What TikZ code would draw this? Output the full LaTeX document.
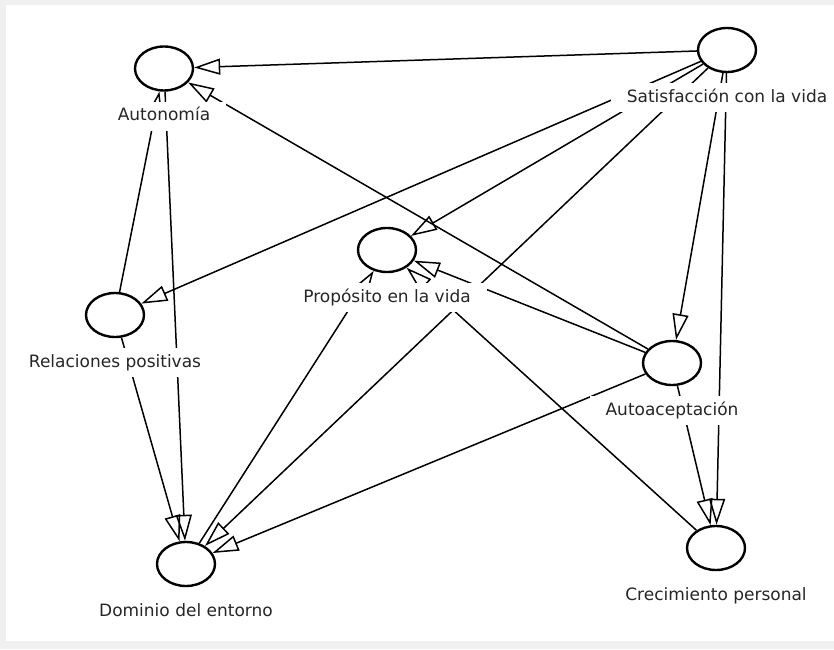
\documentclass[tikz,border=0pt]{standalone}
\usepackage{fontspec}
\setmainfont{DejaVu Sans}
\usepackage{tikz}
\usetikzlibrary{
    arrows.meta,
    shapes.geometric,
    positioning
}
\definecolor{framegray}{HTML}{F0F0F0}

\begin{document}
\begin{tikzpicture}[x=1pt, y=1pt,
    var/.style={draw, ellipse, fill=white, line width=2.4pt, inner sep=0pt,
        minimum width=58pt, minimum height=44pt},
    lbl/.style={fill=white, text=black!85, inner xsep=16pt, inner ysep=6pt,
        text height=13pt, text depth=4pt, font=\fontsize{17}{20}\selectfont},
    link/.style={line width=1.5pt, -{Triangle[open, length=26pt, width=16pt]}}]
    % frame
    \fill[framegray] (0, 0) rectangle (834, 649);
    \fill[white] (6, 8) rectangle (834, 644);
    \useasboundingbox (0, 0) rectangle (834, 649);

    % variables
    \node[var] (aut) at (164, 580.5) {};
    \node[var] (sat) at (727, 599) {};
    \node[var] (pro) at (387, 399) {};
    \node[var] (rel) at (115, 334) {};
    \node[var] (ace) at (672, 286) {};
    \node[var] (dom) at (186, 85) {};
    \node[var] (cre) at (716, 101) {};

    % paths
    \draw
    (sat) edge[link] (aut)
    (ace) edge[link] (aut)
    (rel) edge[link] (aut)
    (sat) edge[link] (rel)
    (sat) edge[link] (pro)
    (sat) edge[link] (dom)
    (sat) edge[link] (ace)
    (sat) edge[link] (cre)
    (aut) edge[link] (dom)
    (rel) edge[link] (dom)
    (ace) edge[link] (dom)
    (dom) edge[link] (pro)
    (ace) edge[link] (pro)
    (cre) edge[link] (pro)
    (ace) edge[link] (cre);

    % names
    \node[lbl, below=10pt of aut] (aut-l) {Autonomía};
    \node[lbl, below=10pt of sat] (sat-l) {Satisfacción con la vida};
    \node[lbl, below=10pt of pro] (pro-l) {Propósito en la vida};
    \node[lbl, below=10pt of rel] (rel-l) {Relaciones positivas};
    \node[lbl, below=10pt of ace] (ace-l) {Autoaceptación};
    \node[lbl, below=10pt of dom] (dom-l) {Dominio del entorno};
    \node[lbl, below=10pt of cre] (cre-l) {Crecimiento personal};
\end{tikzpicture}
\end{document}
